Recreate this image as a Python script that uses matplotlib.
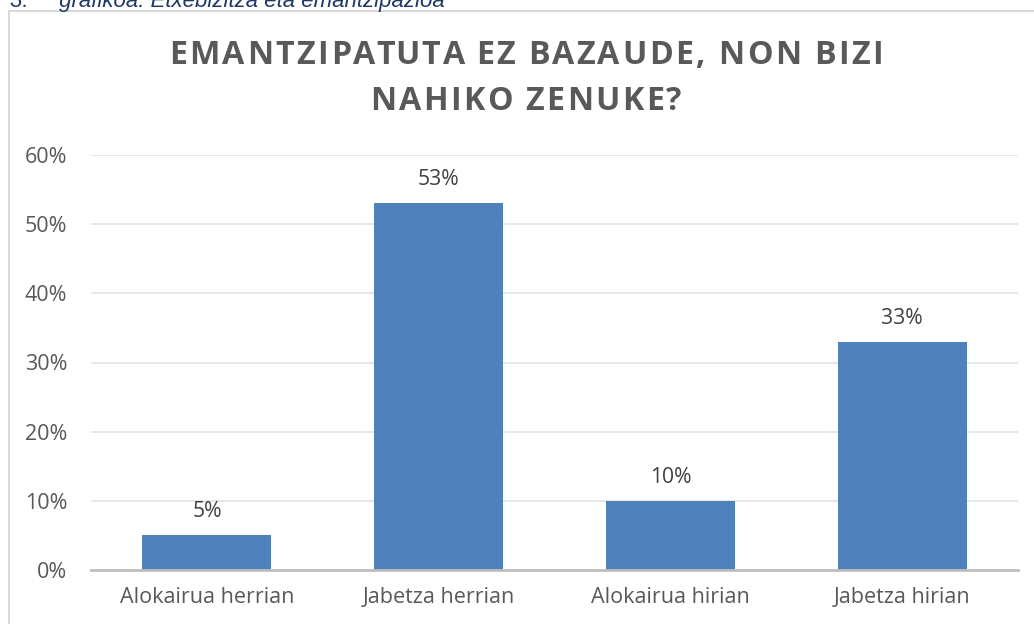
import matplotlib.pyplot as plt
from matplotlib.patches import Rectangle

categories = ['Alokairua herrian', 'Jabetza herrian', 'Alokairua hirian', 'Jabetza hirian']
values = [5, 53, 10, 33]
yticks = [0, 10, 20, 30, 40, 50, 60]
title_lines = ['EMANTZIPATUTA EZ BAZAUDE, NON BIZI', 'NAHIKO ZENUKE?']
caption = '3.     grafikoa: Etxebizitza eta emantzipazioa'

plt.rcParams['font.family'] = ['Open Sans', 'DejaVu Sans']
grey = '#595959'

W, H = 1034, 624
fig = plt.figure(figsize=(W / 100, H / 100), dpi=100)
renderer = fig.canvas.get_renderer()

# chart frame (cut off on right and bottom like the screenshot)
frame = Rectangle((8.5 / W, -0.1), 1.2, 1 - 10.5 / H + 0.1, transform=fig.transFigure,
                  facecolor='none', edgecolor='#d9d9d9', linewidth=1.5, zorder=-1)
fig.patches.append(frame)
fig.text(10 / W, 1 - 1 / H, caption, fontsize=16, style='italic', color='#1f3864',
         ha='left', va='center', family=['Liberation Sans'])

ax = fig.add_axes([91 / W, 1 - 570 / H, (1018 - 91) / W, (570 - 155) / H])
ax.set_zorder(2)
ax.patch.set_alpha(0)
x = range(len(categories))
ax.bar(x, values, width=0.556, color='#4f81bd', zorder=3)
for xi, v in zip(x, values):
    ax.annotate(f'{v}%', (xi, v), xytext=(0, 13), textcoords='offset points',
                ha='center', va='baseline', fontsize=15.2, color='#404040')

ax.set_xlim(-0.5, len(categories) - 0.5)
ax.set_ylim(0, 60)
ax.set_yticks(yticks)
ax.set_yticklabels([f'{t}%' for t in yticks])
ax.set_xticks(list(x))
ax.set_xticklabels(categories)
ax.tick_params(axis='both', length=0, labelsize=15.5, labelcolor=grey)
ax.tick_params(axis='y', pad=17)
ax.tick_params(axis='x', pad=12)
ax.yaxis.grid(True, color='#e3e3e3', linewidth=1.2, zorder=0)
for s in ['top', 'right', 'left']:
    ax.spines[s].set_visible(False)
ax.spines['bottom'].set_color('#bfbfbf')
ax.spines['bottom'].set_linewidth(2)
ax.spines['bottom'].set_zorder(4)


# title with letter spacing (Excel-style tracking)
def text_width(s, **kw):
    t = fig.text(0, 0, s, **kw)
    w = t.get_window_extent(renderer).width
    t.remove()
    return w


title_kw = dict(fontsize=23.2, fontweight='bold', color=grey)
track = 2.4
ref_w = text_width('H', **title_kw)
for line, base in zip(title_lines, [64, 110]):
    total = text_width(line, **title_kw) + track * (len(line) - 1)
    x0 = 526 - total / 2
    for i, ch in enumerate(line):
        if ch == ' ':
            continue
        adv = text_width(line[:i] + 'H', **title_kw) - ref_w if i else 0
        fig.text((x0 + adv + track * i) / W, 1 - base / H, ch, ha='left', va='baseline', **title_kw)

fig.savefig('out.png', dpi=100)
